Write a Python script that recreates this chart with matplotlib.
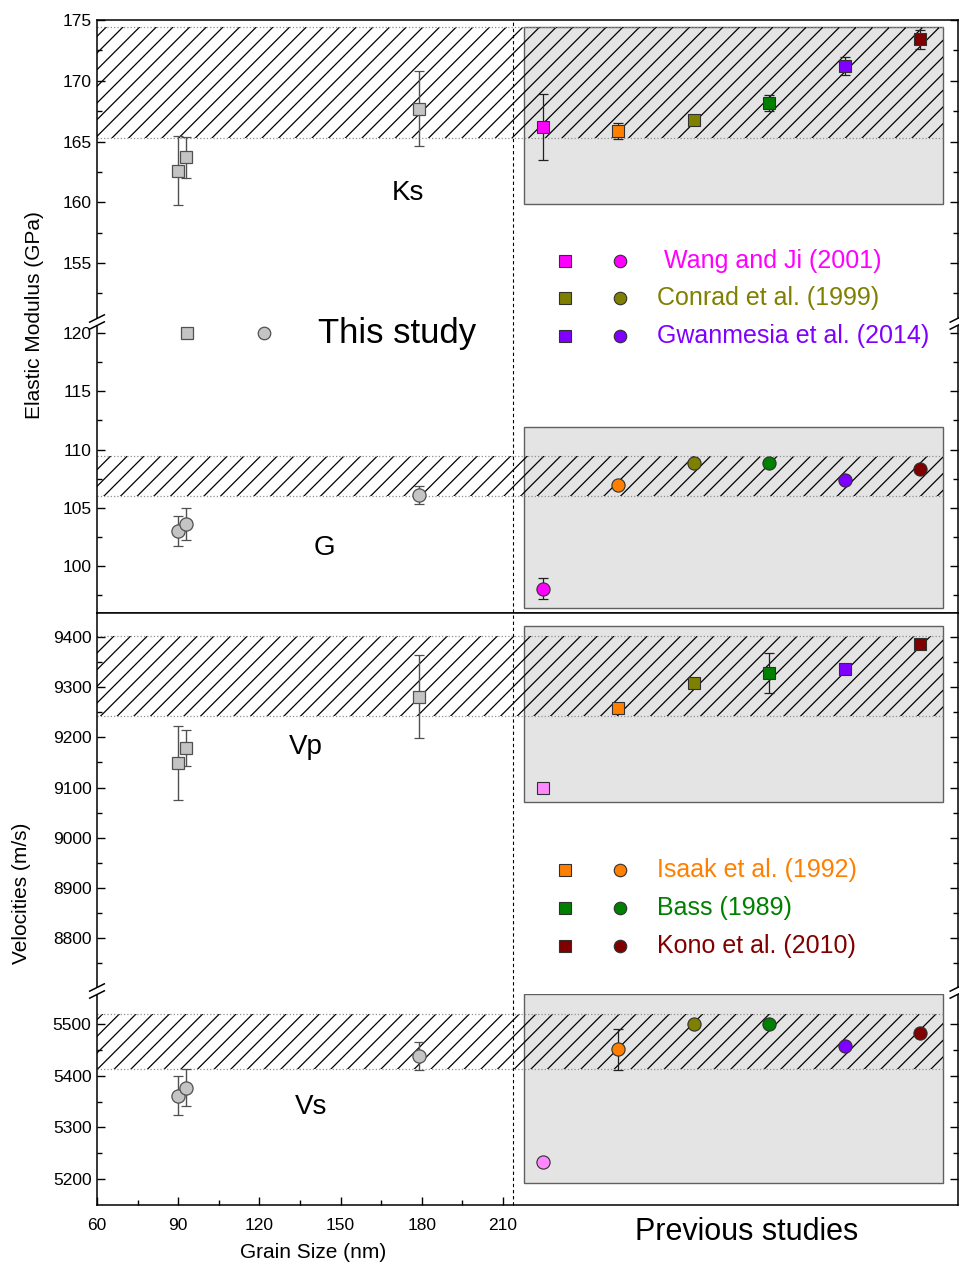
import numpy as np
import matplotlib
matplotlib.use('Agg')
import matplotlib.pyplot as plt
from matplotlib.patches import Rectangle
from matplotlib.lines import Line2D
from matplotlib.ticker import FixedLocator
import matplotlib.transforms as mtransforms

plt.rcParams['font.family'] = ['Liberation Sans', 'DejaVu Sans']
plt.rcParams['hatch.linewidth'] = 0.9

# this study (grain size in nm)
grain_size = [90, 93, 179]
ks_this = [162.6, 163.7, 167.7]
ks_this_err = [2.85, 1.7, 3.1]
g_this = [103.0, 103.6, 106.1]
g_this_err = [1.3, 1.35, 0.75]
vp_this = [9149, 9178, 9281]
vp_this_err = [73, 36, 83]
vs_this = [5361, 5377, 5438]
vs_this_err = [38, 36, 27]

# previous studies, in plotting order
studies = ['Wang and Ji (2001)', 'Isaak et al. (1992)', 'Conrad et al. (1999)',
           'Bass (1989)', 'Gwanmesia et al. (2014)', 'Kono et al. (2010)']
ks_prev = [166.2, 165.85, 166.8, 168.2, 171.2, 173.4]
ks_prev_err = [2.7, 0.65, 0, 0.65, 0.75, 0.75]
g_prev = [98.05, 106.95, 108.85, 108.85, 107.4, 108.35]
g_prev_err = [0.9, 0, 0, 0, 0, 0]
vp_prev = [9100, 9258, 9308, 9328, 9337, 9387]
vp_prev_err = [0, 0, 0, 40, 0, 0]
vs_prev = [5232, 5451, 5500, 5500, 5457, 5482]
vs_prev_err = [0, 40, 0, 0, 0, 0]

# hatched range of previous studies and grey box extent
ks_range = [165.3, 174.4]
g_range = [106.05, 109.45]
vp_range = [9242, 9402]
vs_range = [5412, 5519]
ks_box = [159.9, 174.4]
g_box = [96.4, 111.9]
vp_box = [9072, 9422]
vs_box = [5192, 5558]

mod_colors = ['#ff00ff', '#ff8000', '#808000', '#008000', '#8000ff', '#800000']
vel_colors = ['#ff88ff', '#ff8000', '#808000', '#008000', '#8000ff', '#800000']

W, H = 959, 1265
fig = plt.figure(figsize=(W / 100, H / 100), dpi=100)

L = 97 / W
R = 957.5 / W


def px_axes(top, bottom):
    return fig.add_axes([L, 1 - bottom / H, R - L, (bottom - top) / H])


ax_ks = px_axes(20, 319)
ax_g = px_axes(325, 613)
ax_vp = px_axes(613, 988)
ax_vs = px_axes(994, 1205)

xmin, xmax = 60, 378
prev_x = 224.8 + 27.9 * np.arange(len(studies))
box_x0, box_x1 = 217.7, 372.8
split_x = 213.8

panels = [
    (ax_ks, (150.4, 175.0), np.arange(155, 176, 5), np.arange(152.5, 175, 5),
     ks_this, ks_this_err, 's', ks_prev, ks_prev_err, ks_range, ks_box, mod_colors),
    (ax_g, (95.97, 120.69), np.arange(100, 121, 5), np.arange(97.5, 120, 5),
     g_this, g_this_err, 'o', g_prev, g_prev_err, g_range, g_box, mod_colors),
    (ax_vp, (8700.4, 9447.8), np.arange(8800, 9401, 100), np.arange(8750, 9400, 100),
     vp_this, vp_this_err, 's', vp_prev, vp_prev_err, vp_range, vp_box, vel_colors),
    (ax_vs, (5149.7, 5558.1), np.arange(5200, 5501, 100), np.arange(5250, 5500, 100),
     vs_this, vs_this_err, 'o', vs_prev, vs_prev_err, vs_range, vs_box, vel_colors),
]

for ax, ylim, major, minor, tv, te, mk, pv, pe, rng, box, cols in panels:
    ax.set_xlim(xmin, xmax)
    ax.set_ylim(*ylim)
    ax.yaxis.set_major_locator(FixedLocator(major))
    ax.yaxis.set_minor_locator(FixedLocator(minor))
    ax.set_yticklabels([f'{v:g}' for v in major])
    ax.tick_params(axis='y', which='both', direction='in', right=True,
                   labelsize=12.5, pad=4)
    ax.tick_params(axis='y', which='major', length=6, width=1)
    ax.tick_params(axis='y', which='minor', length=3.5, width=1)
    ax.tick_params(axis='x', which='both', bottom=False, top=False, labelbottom=False)
    for s in ax.spines.values():
        s.set_linewidth(1.1)

    ms = 8.5 if mk == 's' else 9.5
    # grey box of previous studies
    ax.add_patch(Rectangle((box_x0, box[0]), box_x1 - box_x0, box[1] - box[0],
                           facecolor='#e4e4e4', edgecolor='#606060', lw=1, zorder=1))
    # hatched range
    ax.add_patch(Rectangle((xmin, rng[0]), box_x1 - xmin, rng[1] - rng[0],
                           facecolor='none', edgecolor='black', lw=0, hatch='//',
                           zorder=2))
    ax.hlines(rng, xmin, box_x1, colors='#909090', linestyles=':', lw=0.9, zorder=2)

    # this study
    ax.errorbar(grain_size, tv, yerr=te, fmt=mk, ms=ms, mfc='#c4c4c4', mec='#505050',
                mew=0.9, ecolor='#505050', elinewidth=1, capsize=3.5, capthick=1,
                zorder=4)
    # previous studies
    for x, v, e, c in zip(prev_x, pv, pe, cols):
        if e > 0:
            ax.errorbar([x], [v], yerr=[e], fmt='none', ecolor='#202020',
                        elinewidth=0.9, capsize=3.5, capthick=0.9, zorder=3)
        ax.plot([x], [v], mk, ms=ms, mfc=c, mec='#303030', mew=0.8, zorder=4)

ax_ks.spines['bottom'].set_visible(False)
ax_g.spines['top'].set_visible(False)
ax_vp.spines['bottom'].set_visible(False)
ax_vs.spines['top'].set_visible(False)

ax_vs.xaxis.set_major_locator(FixedLocator(np.arange(60, 211, 30)))
ax_vs.xaxis.set_minor_locator(FixedLocator(np.arange(75, 210, 30)))
ax_vs.tick_params(axis='x', which='both', bottom=True, labelbottom=True,
                  direction='in', labelsize=12.5, pad=9)
ax_vs.tick_params(axis='x', which='major', length=6, width=1)
ax_vs.tick_params(axis='x', which='minor', length=3.5, width=1)

# vertical dashed divider through both panels
tr = mtransforms.blended_transform_factory(ax_vs.transData, fig.transFigure)
fig.add_artist(Line2D([split_x, split_x], [1 - 1205 / H, 1 - 20 / H], transform=tr,
                      color='black', lw=0.8, ls=(0, (3, 2.5)), zorder=5))

# overlay in pixel coordinates for labels, legends and break marks
ov = fig.add_axes([0, 0, 1, 1])
ov.set_xlim(0, W)
ov.set_ylim(H, 0)
ov.axis('off')
ov.patch.set_alpha(0)

for yc in (322, 991):
    for xs in (97, 957.5):
        ov.add_patch(Rectangle((xs - 3, yc - 3), 6, 6, facecolor='white',
                               edgecolor='none', zorder=6))
        for dy in (-3.5, 3.5):
            ov.plot([xs - 8, xs + 8], [yc + dy + 4, yc + dy - 4], color='black',
                    lw=1.1, solid_capstyle='butt', clip_on=False, zorder=7)

ov.text(408, 193, 'Ks', fontsize=20, ha='center', va='center')
ov.text(324, 548, 'G', fontsize=20, ha='center', va='center')
ov.text(306, 747, 'Vp', fontsize=20, ha='center', va='center')
ov.text(311, 1107, 'Vs', fontsize=20, ha='center', va='center')

# this study legend
ov.plot([187], [333], 's', ms=8, mfc='#c4c4c4', mec='#505050', mew=0.9)
ov.plot([264], [333], 'o', ms=9, mfc='#c4c4c4', mec='#505050', mew=0.9)
ov.text(318, 333, 'This study', fontsize=25, ha='left', va='center')

# previous studies legends
legend_rows = [(0, 261, ' Wang and Ji (2001)'), (2, 298, None), (4, 336, None),
               (1, 870, None), (3, 908, None), (5, 946, None)]
for idx, y, label in legend_rows:
    c = mod_colors[idx]
    ov.plot([565], [y], 's', ms=8, mfc=c, mec='#303030', mew=0.8)
    ov.plot([620], [y], 'o', ms=9, mfc=c, mec='#303030', mew=0.8)
    ov.text(657, y, label if label else studies[idx], color=c, fontsize=18,
            ha='left', va='center')

fig.text(313 / W, 1 - 1253 / H, 'Grain Size (nm)', fontsize=15, ha='center', va='center')
fig.text(747 / W, 1 - 1232 / H, 'Previous studies', fontsize=22, ha='center', va='center')
fig.text(35 / W, 1 - 315 / H, 'Elastic Modulus (GPa)', fontsize=15, rotation=90,
         ha='center', va='center')
fig.text(22 / W, 1 - 893 / H, 'Velocities (m/s)', fontsize=15, rotation=90,
         ha='center', va='center')

fig.savefig('out.png', dpi=100)
